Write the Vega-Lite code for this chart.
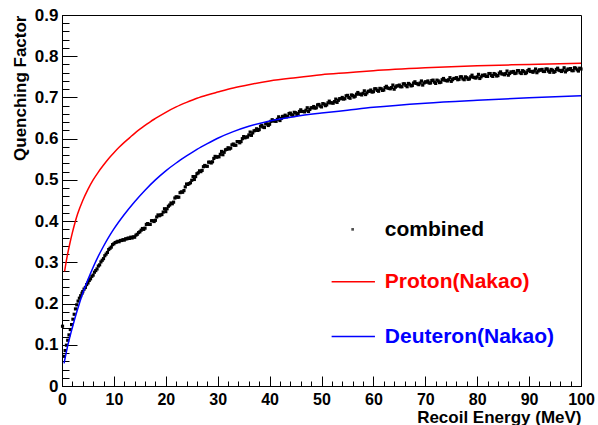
{
  "$schema": "https://vega.github.io/schema/vega-lite/v6.json",
  "width": 519,
  "height": 371,
  "autosize": {"type": "none"},
  "padding": {"left": 62, "top": 15, "right": 17, "bottom": 39},
  "background": "white",
  "config": {
    "view": {"stroke": "black", "strokeWidth": 1},
    "font": "Liberation Sans",
    "axis": {"grid": false, "domainColor": "black", "tickColor": "black", "labelColor": "black", "titleColor": "black", "labelFont": "Liberation Sans", "titleFont": "Liberation Sans", "labelFontWeight": "bold", "titleFontWeight": "bold", "labelFlush": false}
  },
  "datasets": {
    "combined": [
      {"e":0.1,"q":0.145},{"e":0.35,"q":0.072},{"e":0.6,"q":0.086},{"e":0.85,"q":0.099},{"e":1.1,"q":0.111},{"e":1.35,"q":0.124},{"e":1.6,"q":0.137},{"e":1.85,"q":0.149},{"e":2.1,"q":0.162},{"e":2.35,"q":0.174},{"e":2.6,"q":0.187},{"e":2.85,"q":0.197},{"e":3.1,"q":0.206},{"e":3.35,"q":0.213},{"e":3.6,"q":0.219},{"e":3.85,"q":0.225},
      {"e":4,"q":0.229},{"e":4.25,"q":0.235},{"e":4.5,"q":0.239},{"e":4.75,"q":0.246},{"e":5,"q":0.25},{"e":5.25,"q":0.256},{"e":5.5,"q":0.26},{"e":5.75,"q":0.266},{"e":6,"q":0.269},{"e":6.25,"q":0.276},{"e":6.5,"q":0.28},{"e":6.75,"q":0.284},{"e":7,"q":0.291},{"e":7.25,"q":0.294},{"e":7.5,"q":0.301},{"e":7.75,"q":0.305},{"e":8,"q":0.309},{"e":8.25,"q":0.316},{"e":8.5,"q":0.32},{"e":8.75,"q":0.324},{"e":9,"q":0.331},{"e":9.25,"q":0.334},{"e":9.5,"q":0.337},{"e":9.75,"q":0.343},{"e":10,"q":0.345},{"e":10.25,"q":0.348},{"e":10.5,"q":0.349},{"e":10.75,"q":0.351},{"e":11,"q":0.35},{"e":11.25,"q":0.353},{"e":11.5,"q":0.353},{"e":11.75,"q":0.355},{"e":12,"q":0.354},{"e":12.25,"q":0.357},{"e":12.5,"q":0.357},{"e":12.75,"q":0.359},{"e":13,"q":0.358},{"e":13.25,"q":0.361},{"e":13.5,"q":0.359},{"e":13.75,"q":0.362},{"e":14,"q":0.361},{"e":14.25,"q":0.366},{"e":14.5,"q":0.368},{"e":14.75,"q":0.372},{"e":15,"q":0.374},{"e":15.25,"q":0.378},
      {"e":15.5,"q":0.382},{"e":15.75,"q":0.38},{"e":16,"q":0.383},{"e":16.25,"q":0.392},{"e":16.5,"q":0.394},{"e":16.75,"q":0.392},{"e":17,"q":0.392},{"e":17.25,"q":0.401},{"e":17.5,"q":0.401},{"e":17.75,"q":0.399},{"e":18,"q":0.402},{"e":18.25,"q":0.41},{"e":18.5,"q":0.415},{"e":18.75,"q":0.413},{"e":19,"q":0.415},{"e":19.25,"q":0.416},{"e":19.5,"q":0.422},{"e":19.75,"q":0.43},{"e":20,"q":0.423},{"e":20.25,"q":0.43},
      {"e":20.5,"q":0.436},{"e":20.75,"q":0.439},{"e":21,"q":0.444},{"e":21.25,"q":0.442},{"e":21.5,"q":0.446},{"e":21.75,"q":0.456},{"e":22,"q":0.459},{"e":22.25,"q":0.458},{"e":22.5,"q":0.458},{"e":22.75,"q":0.469},{"e":23,"q":0.471},{"e":23.25,"q":0.47},{"e":23.5,"q":0.474},{"e":23.75,"q":0.483},{"e":24,"q":0.49},{"e":24.25,"q":0.489},{"e":24.5,"q":0.491},{"e":24.75,"q":0.493},{"e":25,"q":0.499},{"e":25.25,"q":0.508},
      {"e":25.5,"q":0.501},{"e":25.75,"q":0.508},{"e":26,"q":0.515},{"e":26.25,"q":0.517},{"e":26.5,"q":0.522},{"e":26.75,"q":0.52},{"e":27,"q":0.523},{"e":27.25,"q":0.532},{"e":27.5,"q":0.535},{"e":27.75,"q":0.533},{"e":28,"q":0.533},{"e":28.25,"q":0.543},{"e":28.5,"q":0.543},{"e":28.75,"q":0.541},{"e":29,"q":0.544},{"e":29.25,"q":0.552},{"e":29.5,"q":0.557},{"e":29.75,"q":0.555},{"e":30,"q":0.556},{"e":30.25,"q":0.556},
      {"e":30.5,"q":0.562},{"e":30.75,"q":0.569},{"e":31,"q":0.561},{"e":31.25,"q":0.567},{"e":31.5,"q":0.573},{"e":31.75,"q":0.574},{"e":32,"q":0.578},{"e":32.25,"q":0.575},{"e":32.5,"q":0.577},{"e":32.75,"q":0.585},{"e":33,"q":0.587},{"e":33.25,"q":0.584},{"e":33.5,"q":0.584},{"e":33.75,"q":0.593},{"e":34,"q":0.593},{"e":34.25,"q":0.59},{"e":34.5,"q":0.593},{"e":34.75,"q":0.6},{"e":35,"q":0.605},{"e":35.25,"q":0.602},
      {"e":35.5,"q":0.604},{"e":35.75,"q":0.604},{"e":36,"q":0.609},{"e":36.25,"q":0.616},{"e":36.5,"q":0.608},{"e":36.75,"q":0.614},{"e":37,"q":0.619},{"e":37.25,"q":0.62},{"e":37.5,"q":0.624},{"e":37.75,"q":0.62},{"e":38,"q":0.622},{"e":38.25,"q":0.63},{"e":38.5,"q":0.632},{"e":38.75,"q":0.628},{"e":39,"q":0.627},{"e":39.25,"q":0.636},{"e":39.5,"q":0.636},{"e":39.75,"q":0.632},{"e":40,"q":0.635},{"e":40.25,"q":0.642},
      {"e":40.5,"q":0.646},{"e":40.75,"q":0.643},{"e":41,"q":0.643},{"e":41.25,"q":0.642},{"e":41.5,"q":0.647},{"e":41.75,"q":0.653},{"e":42,"q":0.644},{"e":42.25,"q":0.649},{"e":42.5,"q":0.654},{"e":42.75,"q":0.654},{"e":43,"q":0.657},{"e":43.25,"q":0.653},{"e":43.5,"q":0.654},{"e":43.75,"q":0.661},{"e":44,"q":0.662},{"e":44.25,"q":0.658},{"e":44.5,"q":0.656},{"e":44.75,"q":0.664},{"e":45,"q":0.663},{"e":45.25,"q":0.659},
      {"e":45.5,"q":0.661},{"e":45.75,"q":0.666},{"e":46,"q":0.67},{"e":46.25,"q":0.666},{"e":46.5,"q":0.666},{"e":46.75,"q":0.665},{"e":47,"q":0.669},{"e":47.25,"q":0.675},{"e":47.5,"q":0.666},{"e":47.75,"q":0.671},{"e":48,"q":0.675},{"e":48.25,"q":0.675},{"e":48.5,"q":0.678},{"e":48.75,"q":0.674},{"e":49,"q":0.675},{"e":49.25,"q":0.682},{"e":49.5,"q":0.683},{"e":49.75,"q":0.679},{"e":50,"q":0.677},{"e":50.25,"q":0.685},
      {"e":50.5,"q":0.684},{"e":50.75,"q":0.68},{"e":51,"q":0.682},{"e":51.25,"q":0.687},{"e":51.5,"q":0.691},{"e":51.75,"q":0.687},{"e":52,"q":0.687},{"e":52.25,"q":0.686},{"e":52.5,"q":0.69},{"e":52.75,"q":0.696},{"e":53,"q":0.688},{"e":53.25,"q":0.693},{"e":53.5,"q":0.697},{"e":53.75,"q":0.697},{"e":54,"q":0.7},{"e":54.25,"q":0.696},{"e":54.5,"q":0.697},{"e":54.75,"q":0.704},{"e":55,"q":0.705},{"e":55.25,"q":0.7},
      {"e":55.5,"q":0.698},{"e":55.75,"q":0.706},{"e":56,"q":0.705},{"e":56.25,"q":0.701},{"e":56.5,"q":0.703},{"e":56.75,"q":0.708},{"e":57,"q":0.712},{"e":57.25,"q":0.708},{"e":57.5,"q":0.708},{"e":57.75,"q":0.706},{"e":58,"q":0.71},{"e":58.25,"q":0.716},{"e":58.5,"q":0.707},{"e":58.75,"q":0.711},{"e":59,"q":0.715},{"e":59.25,"q":0.715},{"e":59.5,"q":0.718},{"e":59.75,"q":0.713},{"e":60,"q":0.714},{"e":60.25,"q":0.721},
      {"e":60.5,"q":0.721},{"e":60.75,"q":0.717},{"e":61,"q":0.715},{"e":61.25,"q":0.722},{"e":61.5,"q":0.721},{"e":61.75,"q":0.717},{"e":62,"q":0.718},{"e":62.25,"q":0.724},{"e":62.5,"q":0.727},{"e":62.75,"q":0.723},{"e":63,"q":0.722},{"e":63.25,"q":0.721},{"e":63.5,"q":0.724},{"e":63.75,"q":0.73},{"e":64,"q":0.72},{"e":64.25,"q":0.725},{"e":64.5,"q":0.728},{"e":64.75,"q":0.728},{"e":65,"q":0.73},{"e":65.25,"q":0.726},
      {"e":65.5,"q":0.726},{"e":65.75,"q":0.733},{"e":66,"q":0.733},{"e":66.25,"q":0.729},{"e":66.5,"q":0.726},{"e":66.75,"q":0.734},{"e":67,"q":0.732},{"e":67.25,"q":0.728},{"e":67.5,"q":0.729},{"e":67.75,"q":0.735},{"e":68,"q":0.738},{"e":68.25,"q":0.734},{"e":68.5,"q":0.733},{"e":68.75,"q":0.731},{"e":69,"q":0.735},{"e":69.25,"q":0.74},{"e":69.5,"q":0.73},{"e":69.75,"q":0.735},{"e":70,"q":0.738},{"e":70.25,"q":0.737},
      {"e":70.5,"q":0.74},{"e":70.75,"q":0.735},{"e":71,"q":0.735},{"e":71.25,"q":0.741},{"e":71.5,"q":0.742},{"e":71.75,"q":0.737},{"e":72,"q":0.734},{"e":72.25,"q":0.742},{"e":72.5,"q":0.74},{"e":72.75,"q":0.736},{"e":73,"q":0.737},{"e":73.25,"q":0.743},{"e":73.5,"q":0.746},{"e":73.75,"q":0.742},{"e":74,"q":0.741},{"e":74.25,"q":0.74},{"e":74.5,"q":0.743},{"e":74.75,"q":0.748},{"e":75,"q":0.739},{"e":75.25,"q":0.743},
      {"e":75.5,"q":0.746},{"e":75.75,"q":0.746},{"e":76,"q":0.748},{"e":76.25,"q":0.743},{"e":76.5,"q":0.744},{"e":76.75,"q":0.75},{"e":77,"q":0.75},{"e":77.25,"q":0.745},{"e":77.5,"q":0.743},{"e":77.75,"q":0.75},{"e":78,"q":0.748},{"e":78.25,"q":0.744},{"e":78.5,"q":0.745},{"e":78.75,"q":0.75},{"e":79,"q":0.754},{"e":79.25,"q":0.749},{"e":79.5,"q":0.748},{"e":79.75,"q":0.747},{"e":80,"q":0.75},{"e":80.25,"q":0.756},
      {"e":80.5,"q":0.746},{"e":80.75,"q":0.75},{"e":81,"q":0.754},{"e":81.25,"q":0.753},{"e":81.5,"q":0.755},{"e":81.75,"q":0.751},{"e":82,"q":0.751},{"e":82.25,"q":0.758},{"e":82.5,"q":0.758},{"e":82.75,"q":0.753},{"e":83,"q":0.751},{"e":83.25,"q":0.758},{"e":83.5,"q":0.756},{"e":83.75,"q":0.752},{"e":84,"q":0.753},{"e":84.25,"q":0.759},{"e":84.5,"q":0.762},{"e":84.75,"q":0.757},{"e":85,"q":0.757},{"e":85.25,"q":0.755},
      {"e":85.5,"q":0.758},{"e":85.75,"q":0.764},{"e":86,"q":0.754},{"e":86.25,"q":0.758},{"e":86.5,"q":0.762},{"e":86.75,"q":0.761},{"e":87,"q":0.763},{"e":87.25,"q":0.758},{"e":87.5,"q":0.759},{"e":87.75,"q":0.765},{"e":88,"q":0.765},{"e":88.25,"q":0.76},{"e":88.5,"q":0.758},{"e":88.75,"q":0.765},{"e":89,"q":0.763},{"e":89.25,"q":0.758},{"e":89.5,"q":0.76},{"e":89.75,"q":0.765},{"e":90,"q":0.768},{"e":90.25,"q":0.763},
      {"e":90.5,"q":0.763},{"e":90.75,"q":0.761},{"e":91,"q":0.764},{"e":91.25,"q":0.769},{"e":91.5,"q":0.76},{"e":91.75,"q":0.764},{"e":92,"q":0.767},{"e":92.25,"q":0.766},{"e":92.5,"q":0.768},{"e":92.75,"q":0.763},{"e":93,"q":0.763},{"e":93.25,"q":0.769},{"e":93.5,"q":0.769},{"e":93.75,"q":0.764},{"e":94,"q":0.761},{"e":94.25,"q":0.768},{"e":94.5,"q":0.766},{"e":94.75,"q":0.761},{"e":95,"q":0.763},{"e":95.25,"q":0.768},
      {"e":95.5,"q":0.771},{"e":95.75,"q":0.766},{"e":96,"q":0.765},{"e":96.25,"q":0.763},{"e":96.5,"q":0.766},{"e":96.75,"q":0.772},{"e":97,"q":0.762},{"e":97.25,"q":0.766},{"e":97.5,"q":0.769},{"e":97.75,"q":0.768},{"e":98,"q":0.77},{"e":98.25,"q":0.765},{"e":98.5,"q":0.765},{"e":98.75,"q":0.772},{"e":99,"q":0.771},{"e":99.25,"q":0.767},{"e":99.5,"q":0.764},{"e":99.75,"q":0.771},{"e":100,"q":0.769}
    ],
    "proton": [
      {"e":0.5,"q":0.278},{"e":1,"q":0.315},{"e":1.5,"q":0.345},{"e":2,"q":0.372},{"e":2.5,"q":0.396},{"e":3,"q":0.417},{"e":4,"q":0.45},{"e":5,"q":0.477},{"e":6,"q":0.5},{"e":7,"q":0.519},{"e":8,"q":0.536},{"e":9,"q":0.552},{"e":10,"q":0.566},{"e":11,"q":0.579},{"e":12,"q":0.591},{"e":13,"q":0.602},{"e":14,"q":0.613},{"e":15,"q":0.623},{"e":16,"q":0.632},{"e":17,"q":0.641},{"e":18,"q":0.649},{"e":20,"q":0.664},{"e":22,"q":0.677},{"e":24,"q":0.688},{"e":26,"q":0.698},{"e":28,"q":0.706},{"e":30,"q":0.713},{"e":33,"q":0.723},{"e":36,"q":0.731},{"e":40,"q":0.74},{"e":45,"q":0.748},{"e":50,"q":0.755},{"e":55,"q":0.76},{"e":60,"q":0.765},{"e":70,"q":0.772},{"e":80,"q":0.777},{"e":90,"q":0.78},{"e":100,"q":0.783}
    ],
    "deuteron": [
      {"e":0.4,"q":0.055},{"e":1,"q":0.092},{"e":2,"q":0.142},{"e":3,"q":0.186},{"e":4,"q":0.225},{"e":5,"q":0.258},{"e":6,"q":0.288},{"e":7,"q":0.315},{"e":8,"q":0.339},{"e":9,"q":0.361},{"e":10,"q":0.381},{"e":12,"q":0.416},{"e":14,"q":0.447},{"e":16,"q":0.475},{"e":18,"q":0.5},{"e":20,"q":0.522},{"e":22,"q":0.541},{"e":24,"q":0.558},{"e":26,"q":0.574},{"e":28,"q":0.588},{"e":30,"q":0.601},{"e":33,"q":0.617},{"e":36,"q":0.63},{"e":40,"q":0.643},{"e":45,"q":0.654},{"e":50,"q":0.662},{"e":55,"q":0.669},{"e":60,"q":0.676},{"e":70,"q":0.686},{"e":80,"q":0.693},{"e":90,"q":0.699},{"e":100,"q":0.704}
    ]
  },
  "layer": [
    {
      "data": {"name": "combined"},
      "mark": {"type": "square", "size": 10, "color": "black", "opacity": 1},
      "encoding": {
        "x": {"field": "e", "type": "quantitative", "scale": {"domain": [0, 100], "nice": false, "zero": false},
          "axis": {"orient": "bottom", "values": [0,2,4,6,8,10,12,14,16,18,20,22,24,26,28,30,32,34,36,38,40,42,44,46,48,50,52,54,56,58,60,62,64,66,68,70,72,74,76,78,80,82,84,86,88,90,92,94,96,98,100], "labels": false, "title": null, "tickSize": -5, "domain": false}},
        "y": {"field": "q", "type": "quantitative", "scale": {"domain": [0, 0.9], "nice": false, "zero": false},
          "axis": {"orient": "left", "values": [0,0.02,0.04,0.06,0.08,0.1,0.12,0.14,0.16,0.18,0.2,0.22,0.24,0.26,0.28,0.3,0.32,0.34,0.36,0.38,0.4,0.42,0.44,0.46,0.48,0.5,0.52,0.54,0.56,0.58,0.6,0.62,0.64,0.66,0.68,0.7,0.72,0.74,0.76,0.78,0.8,0.82,0.84,0.86,0.88,0.9], "labels": false, "title": null, "tickSize": -7, "domain": false}}
      }
    },
    {
      "data": {"name": "proton"},
      "mark": {"type": "line", "color": "#ff0000", "strokeWidth": 1.5, "interpolate": "monotone"},
      "encoding": {
        "x": {"field": "e", "type": "quantitative",
          "axis": {"orient": "bottom", "values": [0,10,20,30,40,50,60,70,80,90,100], "tickSize": -10, "labelPadding": 15, "labelFontSize": 16, "format": "d", "title": "Recoil Energy (MeV)", "titleFontSize": 17, "titleAnchor": "end", "titleAlign": "right", "titleBaseline": "alphabetic", "titleX": 519, "titleY": 36, "domain": true}},
        "y": {"field": "q", "type": "quantitative",
          "axis": {"orient": "left", "values": [0,0.1,0.2,0.3,0.4,0.5,0.6,0.7,0.8,0.9], "tickSize": -15, "labelPadding": 19, "labelFontSize": 17, "labelExpr": "datum.value == 0 ? '0' : format(datum.value, '.1f')", "title": "Quenching Factor", "titleFontSize": 17, "titleAnchor": "end", "titleAlign": "right", "titleAngle": -90, "titleBaseline": "alphabetic", "titleX": -37, "titleY": 0, "domain": true}}
      }
    },
    {
      "data": {"name": "deuteron"},
      "mark": {"type": "line", "color": "#0000ff", "strokeWidth": 1.5, "interpolate": "monotone"},
      "encoding": {
        "x": {"field": "e", "type": "quantitative", "axis": null},
        "y": {"field": "q", "type": "quantitative", "axis": null}
      }
    },
    {
      "data": {"values": [{"label": "combined"}]},
      "mark": {"type": "square", "size": 7, "color": "black"},
      "encoding": {"x": {"datum": 56.0, "type": "quantitative", "axis": null}, "y": {"datum": 0.38, "type": "quantitative", "axis": null}}
    },
    {
      "data": {"values": [{"label": "combined"}]},
      "mark": {"type": "text", "align": "left", "baseline": "middle", "font": "Liberation Sans", "fontWeight": "bold", "fontSize": 21, "color": "black"},
      "encoding": {"x": {"datum": 62.2, "type": "quantitative", "axis": null}, "y": {"datum": 0.378, "type": "quantitative", "axis": null}, "text": {"field": "label"}}
    },
    {
      "data": {"values": [{"label": "Proton(Nakao)"}]},
      "mark": {"type": "rule", "color": "#ff0000", "strokeWidth": 1.5},
      "encoding": {"x": {"datum": 51.95, "type": "quantitative", "axis": null}, "x2": {"datum": 60.3}, "y": {"datum": 0.253, "type": "quantitative", "axis": null}}
    },
    {
      "data": {"values": [{"label": "Proton(Nakao)"}]},
      "mark": {"type": "text", "align": "left", "baseline": "middle", "font": "Liberation Sans", "fontWeight": "bold", "fontSize": 21, "color": "#ff0000"},
      "encoding": {"x": {"datum": 62.2, "type": "quantitative", "axis": null}, "y": {"datum": 0.253, "type": "quantitative", "axis": null}, "text": {"field": "label"}}
    },
    {
      "data": {"values": [{"label": "Deuteron(Nakao)"}]},
      "mark": {"type": "rule", "color": "#0000ff", "strokeWidth": 1.5},
      "encoding": {"x": {"datum": 51.95, "type": "quantitative", "axis": null}, "x2": {"datum": 60.3}, "y": {"datum": 0.12, "type": "quantitative", "axis": null}}
    },
    {
      "data": {"values": [{"label": "Deuteron(Nakao)"}]},
      "mark": {"type": "text", "align": "left", "baseline": "middle", "font": "Liberation Sans", "fontWeight": "bold", "fontSize": 21, "color": "#0000ff"},
      "encoding": {"x": {"datum": 62.2, "type": "quantitative", "axis": null}, "y": {"datum": 0.12, "type": "quantitative", "axis": null}, "text": {"field": "label"}}
    }
  ],
  "resolve": {"axis": {"x": "independent", "y": "independent"}}
}
